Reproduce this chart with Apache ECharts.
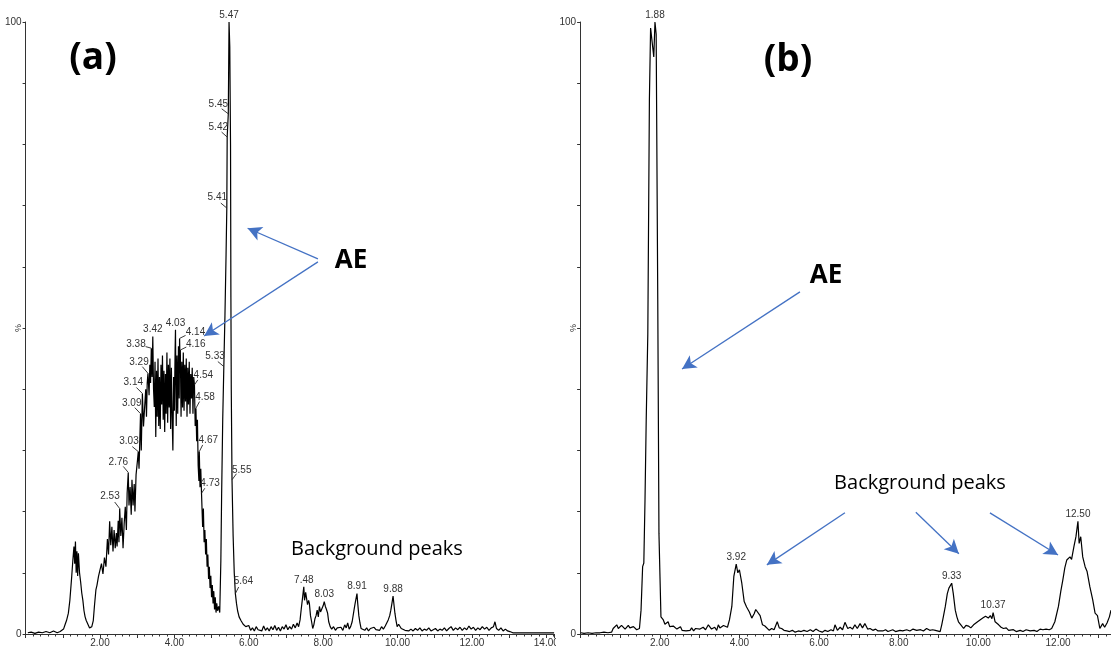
<!DOCTYPE html>
<html><head><meta charset="utf-8">
<script src="https://cdn.jsdelivr.net/npm/echarts/dist/echarts.min.js"></script>
<style>
html,body{margin:0;padding:0;background:#fff;width:1111px;height:648px;overflow:hidden}
#a{position:absolute;left:0;top:0;width:556px;height:648px}
#b{position:absolute;left:556px;top:0;width:555px;height:648px}
</style></head>
<body><div id="a"></div><div id="b"></div>
<script>
// ---------- Panel (a) chromatogram ----------
const leftTimes = [
 0.06,0.15,0.25,0.35,0.45,0.55,0.65,0.75,0.85,0.93,
 0.97,1.02,1.06,1.10,1.15,1.19,1.24,1.27,1.30,1.32,
 1.34,1.36,1.38,1.40,1.42,1.45,1.48,1.51,1.54,1.57,
 1.60,1.63,1.66,1.69,1.72,1.75,1.78,1.82,1.85,1.89,
 1.92,1.96,2.00,2.04,2.08,2.12,2.16,2.20,2.23,2.26,
 2.29,2.32,2.35,2.38,2.41,2.44,2.46,2.49,2.51,2.53,
 2.56,2.59,2.62,2.65,2.68,2.71,2.73,2.76,2.78,2.81,
 2.84,2.86,2.89,2.92,2.94,2.97,3.01,3.03,3.05,3.07,
 3.09,3.11,3.14,3.17,3.20,3.23,3.25,3.27,3.29,3.32,
 3.34,3.36,3.38,3.40,3.42,3.44,3.46,3.48,3.50,3.52,
 3.54,3.56,3.58,3.60,3.62,3.64,3.66,3.68,3.70,3.72,
 3.74,3.76,3.78,3.80,3.82,3.84,3.86,3.88,3.90,3.92,
 3.94,3.96,3.98,4.00,4.02,4.03,4.05,4.07,4.09,4.11,
 4.13,4.14,4.15,4.16,4.18,4.20,4.22,4.24,4.26,4.28,
 4.30,4.32,4.34,4.36,4.38,4.40,4.42,4.44,4.46,4.48,
 4.50,4.52,4.54,4.56,4.58,4.60,4.62,4.64,4.66,4.67,
 4.69,4.71,4.73,4.76,4.78,4.80,4.82,4.84,4.86,4.88,
 4.90,4.92,4.94,4.96,4.98,5.00,5.02,5.04,5.06,5.08,
 5.10,5.12,5.14,5.16,5.19,5.22,5.25,5.27,5.30,5.33,
 5.36,5.39,5.41,5.42,5.45,5.47,5.49,5.51,5.52,5.53,
 5.55,5.58,5.61,5.64,5.67,5.70,5.74,5.79,5.85,5.92,
 6.00,6.05,6.10,6.15,6.20,6.25,6.30,6.35,6.40,6.45,
 6.50,6.55,6.60,6.65,6.70,6.75,6.80,6.85,6.90,6.95,
 7.00,7.05,7.10,7.15,7.20,7.25,7.30,7.34,7.38,7.41,
 7.45,7.48,7.50,7.53,7.56,7.58,7.61,7.63,7.66,7.69,
 7.72,7.75,7.78,7.81,7.84,7.87,7.90,7.93,7.97,8.00,
 8.03,8.06,8.09,8.12,8.15,8.19,8.23,8.28,8.33,8.38,
 8.43,8.48,8.53,8.58,8.62,8.66,8.70,8.74,8.78,8.83,
 8.86,8.91,8.93,8.96,8.99,9.02,9.07,9.12,9.17,9.22,
 9.27,9.32,9.37,9.42,9.47,9.52,9.57,9.62,9.67,9.71,
 9.75,9.79,9.82,9.85,9.88,9.91,9.93,9.96,9.99,10.03,
 10.06,10.10,10.15,10.20,10.25,10.30,10.36,10.42,10.48,10.54,
 10.60,10.66,10.72,10.78,10.84,10.90,10.96,11.02,11.08,11.14,
 11.20,11.26,11.32,11.38,11.44,11.50,11.56,11.62,11.68,11.74,
 11.80,11.86,11.92,11.98,12.04,12.10,12.16,12.22,12.28,12.34,
 12.40,12.46,12.52,12.58,12.62,12.66,12.72,12.78,12.84,12.90,
 12.96,13.02,13.10,13.30,13.50,13.70,13.90,14.10,14.21
];
const leftIntensity = [
 0.2,0.3,0.1,0.3,0.2,0.4,0.2,0.5,0.2,0.4,
 0.3,0.8,1.5,2.2,3.4,5.5,9.4,12.0,14.3,11.5,
 15.1,10.0,13.5,9.5,13.2,10.0,8.5,6.7,5.5,3.8,
 2.8,2.2,1.8,1.5,1.0,0.7,1.2,2.2,4.5,7.2,
 8.0,9.4,9.5,11.5,9.8,12.5,11.0,15.5,13.0,18.4,
 14.5,17.5,13.5,17.0,14.0,16.5,14.3,18.5,15.0,20.5,
 16.0,19.0,14.0,18.0,20.8,17.0,23.0,26.4,21.0,24.0,
 19.5,25.2,21.0,24.5,20.0,26.0,28.5,29.8,27.0,31.5,
 36.0,30.0,39.3,33.9,37.0,40.0,35.5,41.0,42.6,39.0,
 44.0,41.0,46.7,42.0,48.6,40.0,37.1,44.5,32.2,43.0,
 35.5,45.0,34.0,42.0,33.5,44.0,37.5,45.5,35.0,43.0,
 33.0,42.5,36.0,46.0,34.5,44.0,37.0,45.0,33.5,43.5,
 35.5,30.0,42.0,36.5,46.5,49.7,34.0,45.5,36.0,47.0,
 38.5,48.3,45.0,46.4,35.5,44.5,37.0,46.0,36.5,44.0,
 38.0,45.0,35.5,43.5,37.5,44.5,36.0,42.5,38.5,43.5,
 36.0,42.0,40.7,34.0,36.9,31.5,35.0,27.5,25.0,29.8,
 24.0,27.0,23.0,17.5,20.5,15.0,17.0,13.0,15.5,11.0,
 13.0,9.0,11.0,7.5,9.5,6.0,8.0,5.0,7.0,4.0,
 6.0,3.5,5.0,3.8,4.5,3.5,12.0,22.4,35.0,43.7,
 52.0,62.0,69.6,81.2,85.0,100,96.0,80.0,55.0,40.0,
 25.2,16.0,10.0,6.6,5.0,3.8,2.8,2.2,1.6,1.2,
 1.4,0.6,1.0,0.5,1.2,0.7,1.0,0.5,1.3,0.6,
 1.0,0.5,1.2,0.7,1.4,0.6,1.1,0.5,1.2,0.8,
 1.5,0.7,1.2,0.8,1.6,1.0,1.8,1.2,2.3,4.0,
 6.1,7.7,5.5,6.8,6.6,4.8,5.5,5.0,3.0,2.0,
 0.9,1.5,2.5,3.0,3.9,2.8,4.5,3.6,3.9,4.6,
 5.3,4.5,4.0,3.4,2.0,1.2,0.8,1.2,0.6,1.0,
 0.7,1.1,0.6,1.5,1.0,1.8,0.8,1.2,2.0,3.9,
 5.0,6.6,5.0,3.0,1.8,0.9,1.2,0.6,1.0,0.5,
 0.9,0.6,1.1,0.7,1.0,0.6,1.2,0.8,1.3,1.6,
 2.3,3.0,3.9,5.0,6.2,4.5,3.4,2.2,1.2,1.6,
 1.5,0.9,1.0,0.6,0.9,0.5,0.8,0.5,0.9,0.6,
 1.0,0.5,0.8,0.6,1.0,0.5,0.7,0.9,0.5,0.8,
 0.6,1.0,0.5,0.9,1.2,0.6,1.0,0.7,1.1,0.6,
 1.0,0.7,1.3,0.8,1.1,0.6,1.0,0.7,1.2,0.8,
 1.1,0.6,1.0,1.2,2.0,0.9,0.6,1.0,0.5,0.8,
 0.5,0.4,0.2,0.2,0.2,0.2,0.2,0.2,0.2
];
const leftPeakTimes  = [5.47,5.45,5.42,5.41,5.33,4.16,4.14,4.03,3.42,3.38,3.29,3.14,3.09,3.03,2.76,2.53,4.54,4.58,4.67,4.73,5.55,5.64,7.48,8.03,8.91,9.88];
const leftPeakValues = [100,85,81.2,69.6,43.7,46.4,48.3,49.7,48.6,46.7,42.6,39.3,36,29.8,26.4,20.5,40.7,36.9,29.8,23,25.2,6.6,7.7,5.3,6.6,6.2];

// ---------- Panel (b) chromatogram ----------
const rightTimes = [
 0.02,0.10,0.20,0.30,0.40,0.50,0.60,0.70,0.79,0.83,
 0.88,0.92,0.96,1.00,1.04,1.09,1.13,1.17,1.21,1.25,
 1.30,1.34,1.38,1.42,1.46,1.49,1.53,1.57,1.60,1.63,
 1.66,1.70,1.74,1.77,1.82,1.85,1.88,1.91,1.92,1.95,
 1.98,2.03,2.09,2.13,2.16,2.21,2.25,2.30,2.34,2.38,
 2.43,2.47,2.52,2.56,2.61,2.66,2.71,2.76,2.80,2.85,
 2.90,2.95,3.01,3.09,3.15,3.22,3.30,3.38,3.43,3.47,
 3.51,3.55,3.60,3.64,3.70,3.75,3.81,3.86,3.92,3.96,
 4.00,4.06,4.12,4.18,4.25,4.31,4.37,4.41,4.45,4.52,
 4.58,4.64,4.69,4.75,4.81,4.87,4.95,5.00,5.06,5.12,
 5.19,5.26,5.33,5.40,5.48,5.55,5.62,5.70,5.78,5.85,
 5.92,6.00,6.08,6.15,6.22,6.30,6.36,6.40,6.46,6.53,
 6.59,6.65,6.72,6.78,6.84,6.90,6.96,7.03,7.09,7.15,
 7.22,7.28,7.35,7.42,7.48,7.53,7.60,7.67,7.73,7.78,
 7.85,7.92,8.03,8.10,8.20,8.28,8.36,8.45,8.55,8.62,
 8.70,8.78,8.85,8.92,8.97,9.04,9.08,9.12,9.17,9.22,
 9.26,9.30,9.33,9.37,9.42,9.46,9.50,9.56,9.63,9.69,
 9.75,9.81,9.88,9.93,9.98,10.03,10.11,10.18,10.25,10.30,
 10.34,10.37,10.42,10.46,10.51,10.57,10.63,10.70,10.76,10.80,
 10.88,10.95,11.05,11.12,11.20,11.30,11.40,11.47,11.55,11.62,
 11.70,11.78,11.84,11.92,12.01,12.07,12.12,12.17,12.22,12.26,
 12.30,12.34,12.40,12.45,12.50,12.53,12.57,12.62,12.68,12.73,
 12.80,12.87,12.93,12.99,13.05,13.12,13.17,13.23,13.29,13.33
];
const rightIntensity = [
 0.2,0.1,0.2,0.1,0.2,0.2,0.3,0.2,0.3,0.9,
 0.7,1.5,0.9,0.7,1.4,1.3,0.8,1.1,1.4,1.0,
 1.3,1.2,0.9,0.7,1.0,0.9,3.9,11.0,11.6,22.0,
 35.0,49.0,87.3,99.0,99.2,94.3,100,98.0,87.3,54.6,
 16.4,2.8,2.3,1.6,1.5,2.0,1.2,0.9,1.3,1.5,
 0.8,0.7,1.2,0.6,0.9,0.5,0.8,0.6,1.0,0.5,
 0.9,0.6,0.8,1.1,0.7,1.5,0.8,1.1,0.6,1.5,
 1.0,0.9,1.4,1.3,1.1,2.3,4.5,9.4,11.4,10.0,
 10.5,8.3,5.3,4.4,3.6,2.6,3.3,4.0,4.2,3.0,
 1.5,1.3,1.1,0.6,0.9,0.7,2.0,1.0,0.9,0.6,
 0.5,0.4,0.6,0.3,0.5,0.4,0.6,0.4,0.7,0.4,
 0.8,0.5,0.3,0.6,0.4,0.7,0.5,1.5,0.6,1.1,
 0.7,1.9,0.9,1.1,0.8,1.5,0.9,1.7,1.0,1.7,
 0.8,0.9,0.6,0.8,0.5,0.8,0.5,0.7,0.4,0.5,
 0.7,0.4,0.6,0.5,0.7,0.5,0.8,0.6,0.7,0.5,
 0.9,0.6,0.7,0.6,0.9,0.4,1.5,2.8,4.5,6.6,
 7.5,7.8,8.3,6.6,3.9,2.8,2.0,1.5,0.9,1.4,
 1.3,1.0,1.5,1.3,2.0,1.8,2.6,2.9,2.6,3.0,
 2.5,3.5,2.0,2.2,1.5,1.1,0.9,1.0,0.6,0.5,
 0.7,0.4,0.6,0.4,0.7,0.5,0.6,0.4,0.8,0.7,
 0.8,0.7,0.9,2.0,4.5,7.0,8.8,10.8,12.1,11.8,
 12.6,12.2,14.3,15.9,18.4,14.8,15.9,12.6,11.0,10.2,
 7.7,5.6,3.4,3.0,0.9,1.7,1.1,1.8,2.8,3.9
];
const rightPeakTimes  = [1.88,3.92,9.33,10.37,12.50];
const rightPeakValues = [100,11.4,8.3,3.5,18.4];

// y-axis unit label and where it sits on the scale
const yUnitLabel = '%';
const yUnitAt = 50;

// annotation arrow anchors, in data units [time, %]
const leftArrows = [
  [[7.86,61.3],[5.97,66.3]],
  [[7.86,60.8],[4.80,48.7]]
];
const rightArrows = [
  [[5.52,55.9],[2.56,43.3]],
  [[6.65,19.8],[4.69,11.3]],
  [[8.43,19.9],[9.51,13.1]],
  [[10.29,19.8],[12.00,12.9]]
];

// ---------- styles (label leader [dx,dy] and text offset [dx,dy], px) ----------
const leftLabelStyle = [
 [0,0,0,-7],[-6.6,-5,-10,-9.8],[-5.6,-5,-8.9,-9.4],[-6,-5,-9.5,-10.7],[-6,-5,-8.8,-9.9],
 [6,-3,15.4,-6],[6,-3,15.9,-6.4],[0,0,0,-7],[0,0,0,-7],[-5.7,-1.6,-15.3,-4.2],
 [-5.6,-6.6,-9,-10.6],[-6,-6,-9.1,-10.8],[-5.7,-6,-8.8,-10.4],[-6,-5,-9.3,-9.9],[-5,-6,-9.9,-10.1],
 [-5,-6.5,-9.7,-11.8],[3.3,-5,8.9,-9.2],[3.6,-6.6,9.1,-10.5],[3.4,-6.7,9,-10.9],[3.3,-5,8.5,-9.9],
 [4.4,-6,9.7,-9.8],[3.3,-6.6,8,-11.9],[0,0,0,-7],[0,0,0,-7],[0,0,0,-7],[0,0,0,-7]
];
const rightLabelStyle = rightPeakTimes.map(() => [0,0,0,-7]);

const FONT = '"Liberation Sans", Arial, sans-serif';
const AXIS_COLOR = '#333';

function buildOption(cfg) {
  const traceData = cfg.times.map((t, i) => [t, cfg.values[i]]);
  const peakData = cfg.peakT.map((t, i) => [t, cfg.peakV[i]]);
  return {
    animation: false,
    backgroundColor: '#fff',
    grid: { left: cfg.gridLeft, right: cfg.gridRight, top: 22, bottom: 14,
            containLabel: false, outerBoundsMode: 'none' },
    xAxis: {
      type: 'value', min: 0, max: cfg.xMax, interval: 1,
      axisLine: { show: true, onZero: false, lineStyle: { color: AXIS_COLOR, width: 1 } },
      axisTick: { show: true, length: 4, lineStyle: { color: AXIS_COLOR } },
      minorTick: { show: true, splitNumber: 5, length: 2.5, lineStyle: { color: AXIS_COLOR } },
      splitLine: { show: false }, minorSplitLine: { show: false },
      axisLabel: {
        margin: 4, fontSize: 10, fontFamily: FONT, color: '#333',
        showMinLabel: true, showMaxLabel: true, hideOverlap: false,
        formatter: v => (v > 0.5 && Math.abs(v / 2 - Math.round(v / 2)) < 1e-6) ? v.toFixed(2) : ''
      }
    },
    yAxis: {
      type: 'value', min: 0, max: 100, interval: 10,
      axisLine: { show: true, lineStyle: { color: AXIS_COLOR, width: 1 } },
      axisTick: { show: true, length: 3, lineStyle: { color: AXIS_COLOR } },
      splitLine: { show: false },
      axisLabel: {
        margin: 4, fontSize: 10, fontFamily: FONT, color: '#333',
        formatter: v => (v === 100 ? '100' : (v === 0 ? '0' : ''))
      }
    },
    series: [
      {
        type: 'line', data: traceData, showSymbol: false, symbol: 'none',
        lineStyle: { color: '#000', width: 1.2 }, silent: true, clip: false,
        markLine: {
          silent: true, animation: false,
          symbol: ['none', 'arrow'], symbolSize: [11, 14],
          lineStyle: { color: '#4472C4', width: 1.3, type: 'solid' },
          label: { show: false },
          emphasis: { disabled: true },
          data: cfg.arrows.map(a => [{ coord: a[0] }, { coord: a[1] }])
        }
      },
      {
        type: 'custom', data: peakData, silent: true, z: 5, clip: false,
        renderItem: function (params, api) {
          const t = api.value(0), v = api.value(1);
          const p = api.coord([t, v]);
          const s = cfg.labelStyle[params.dataIndex];
          const children = [];
          if (s[0] || s[1]) {
            children.push({ type: 'line',
              shape: { x1: p[0], y1: p[1], x2: p[0] + s[0], y2: p[1] + s[1] },
              style: { stroke: '#222', lineWidth: 0.9 } });
          }
          children.push({ type: 'text', x: p[0] + s[2], y: p[1] + s[3],
            style: { text: t.toFixed(2), align: 'center', verticalAlign: 'middle',
                     fontSize: 10, fontFamily: FONT, fill: '#333' } });
          return { type: 'group', children: children };
        }
      }
    ],
    graphic: cfg.texts.map(tx => ({
      type: 'text', x: tx.x, y: tx.y, silent: true, z: 10,
      style: { text: tx.text, align: 'center', verticalAlign: 'middle',
               fontSize: tx.size, fontWeight: tx.bold ? 'bold' : 'normal',
               fontFamily: '"Open Sans", "Liberation Sans", sans-serif', fill: '#000' }
    }))
  };
}

function addUnitLabel(chart, gridLeft, texts) {
  const yPix = chart.convertToPixel({ yAxisIndex: 0 }, yUnitAt);
  const g = texts.map(tx => ({
    type: 'text', x: tx.x, y: tx.y, silent: true, z: 10,
    style: { text: tx.text, align: 'center', verticalAlign: 'middle',
             fontSize: tx.size, fontWeight: tx.bold ? 'bold' : 'normal',
             fontFamily: '"Open Sans", "Liberation Sans", sans-serif', fill: '#000' }
  }));
  g.push({ type: 'text', x: gridLeft - 7, y: yPix, rotation: Math.PI / 2, silent: true, z: 10,
    style: { text: yUnitLabel, align: 'center', verticalAlign: 'middle',
             fontSize: 9, fontFamily: FONT, fill: '#333' } });
  chart.setOption({ graphic: g }, { replaceMerge: ['graphic'] });
}

const textsA = [
  { text: '(a)', x: 93, y: 58, size: 37, bold: true },
  { text: 'AE', x: 351, y: 261, size: 26, bold: true },
  { text: 'Background peaks', x: 377, y: 549, size: 20, bold: false }
];
const chartA = echarts.init(document.getElementById('a'), null, { renderer: 'canvas' });
chartA.setOption(buildOption({
  times: leftTimes, values: leftIntensity,
  peakT: leftPeakTimes, peakV: leftPeakValues, labelStyle: leftLabelStyle,
  xMax: 14.21, gridLeft: 25.6, gridRight: 1.9,
  arrows: leftArrows, texts: textsA
}));
addUnitLabel(chartA, 25.6, textsA);

const textsB = [
  { text: '(b)', x: 232, y: 60, size: 37, bold: true },
  { text: 'AE', x: 270, y: 276, size: 26, bold: true },
  { text: 'Background peaks', x: 364, y: 483, size: 20, bold: false }
];
const chartB = echarts.init(document.getElementById('b'), null, { renderer: 'canvas' });
chartB.setOption(buildOption({
  times: rightTimes, values: rightIntensity,
  peakT: rightPeakTimes, peakV: rightPeakValues, labelStyle: rightLabelStyle,
  xMax: 13.33, gridLeft: 24.1, gridRight: 0,
  arrows: rightArrows, texts: textsB
}));
addUnitLabel(chartB, 24.1, textsB);
</script></body></html>
